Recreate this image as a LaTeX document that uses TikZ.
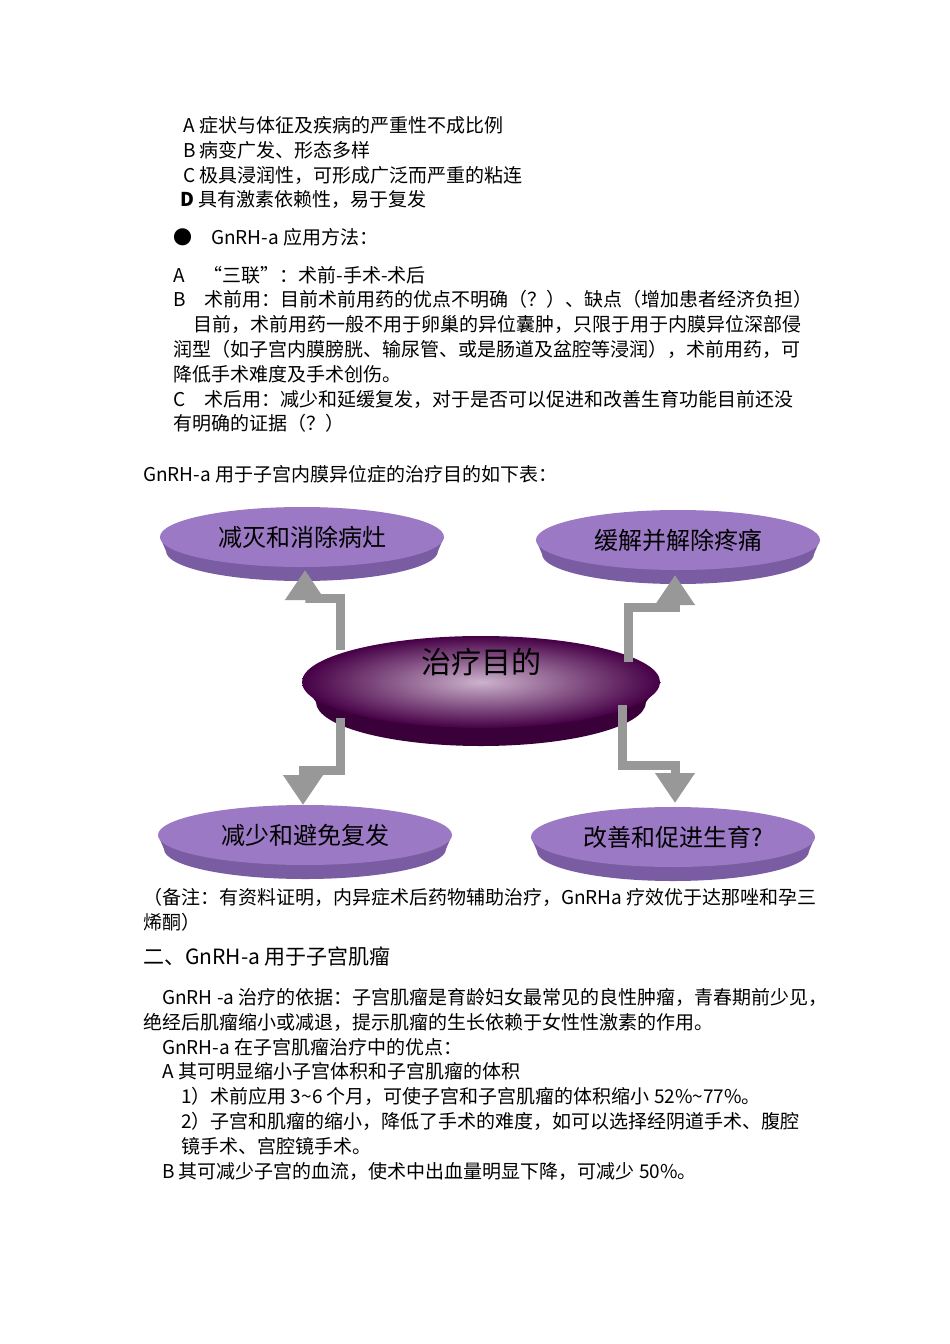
\documentclass[tikz,border=0pt]{standalone}
\usepackage{fontspec}
\usetikzlibrary{arrows.meta}
\setmainfont{Liberation Serif}
\newfontfamily\cjk{Noto Sans CJK SC}
\begin{document}
\begin{tikzpicture}[x=1pt,y=-1pt,
 tx/.style={anchor=base west,inner sep=0pt,font=\cjk\fontsize{19}{21}\selectfont},
 arr/.style={draw=gray!85!black!70,line width=9pt,line join=miter,-{Triangle[length=30pt,width=38pt]}}]
\useasboundingbox (0,0) rectangle (950,1344);
\fill[white] (0,0) rectangle (950,1344);
% text block
\node[tx] (t1) at (183,132) {A\ 症状与体征及疾病的严重性不成比例};
\node[tx] (t2) at (183,157) {B\ 病变广发、形态多样};
\node[tx] (t3) at (183,182) {C\ 极具浸润性，可形成广泛而严重的粘连};
\node[tx] (t4) at (180,206) {\textit{\textbf{D}} 具有激素依赖性，易于复发};
\node[tx] (t5) at (173,244) {●\quad GnRH-a 应用方法：};
\node[tx] (t6) at (173,282) {A\quad “三联”：术前-手术-术后};
\node[tx] (t7) at (173,306) {B\quad 术前用：目前术前用药的优点不明确（？）、缺点（增加患者经济负担）};
\node[tx] (t8) at (193,331) {目前，术前用药一般不用于卵巢的异位囊肿，只限于用于内膜异位深部侵};
\node[tx] (t9) at (173,356) {润型（如子宫内膜膀胱、输尿管、或是肠道及盆腔等浸润），术前用药，可};
\node[tx] (t10) at (173,381) {降低手术难度及手术创伤。};
\node[tx] (t11) at (173,406) {C\quad 术后用：减少和延缓复发，对于是否可以促进和改善生育功能目前还没};
\node[tx] (t12) at (173,430) {有明确的证据（？）};
\node[tx] (t13) at (143,481) {GnRH-a 用于子宫内膜异位症的治疗目的如下表：};
% disks
\definecolor{dtop}{HTML}{9B79C4}
\definecolor{dside}{HTML}{7A5CA3}
\foreach \n/\cx/\cy/\rx/\t in {a/302/537/142/减灭和消除病灶, b/678/540/142/缓解并解除疼痛, c/305/835/147/减少和避免复发, d/673/837/142/改善和促进生育?}{
  \fill[dside] (\cx,\cy+14) ellipse[x radius=\rx-6,y radius=30];
  \fill[dside] (\cx-\rx,\cy) -- (\cx-\rx+6,\cy+14) -- (\cx+\rx-6,\cy+14) -- (\cx+\rx,\cy) -- cycle;
  \fill[dtop] (\cx,\cy) ellipse[x radius=\rx,y radius=30];
  \node[font=\cjk\fontsize{24}{26}\selectfont] (\n) at (\cx,\cy) {\t};
}
% center
\fill[violet!45!black] (481,702) ellipse[x radius=165,y radius=44];
\fill[violet!45!black] (302,682) -- (316,702) -- (646,702) -- (661,682) -- cycle;
\shade[inner color=violet!25!white!80!gray,outer color=violet!55!black] (481,682) ellipse[x radius=179,y radius=46];
\node[font=\cjk\fontsize{30}{32}\selectfont] (m) at (481,662) {治疗目的};
% arrows
\draw[arr] (340,650) -- (340,598) -- (305,598) -- (305,570);
\draw[arr] (628,662) -- (628,607) -- (675,607) -- (675,575);
\draw[arr] (340,718) -- (340,770) -- (303,770) -- (303,805);
\draw[arr] (622,705) -- (622,765) -- (675,765) -- (675,803);
% lower text
\node[tx] (u1) at (143,904) {（备注：有资料证明，内异症术后药物辅助治疗，GnRHa 疗效优于达那唑和孕三};
\node[tx] (u2) at (143,929) {烯酮）};
\node[tx,font=\cjk\fontsize{21}{23}\selectfont] (u3) at (143,964) {二、GnRH-a 用于子宫肌瘤};
\node[tx] (u4) at (162,1004) {GnRH -a 治疗的依据：子宫肌瘤是育龄妇女最常见的良性肿瘤，青春期前少见，};
\node[tx] (u5) at (143,1029) {绝经后肌瘤缩小或减退，提示肌瘤的生长依赖于女性性激素的作用。};
\node[tx] (u6) at (162,1054) {GnRH-a 在子宫肌瘤治疗中的优点：};
\node[tx] (u7) at (162,1078) {A\ 其可明显缩小子宫体积和子宫肌瘤的体积};
\node[tx] (u8) at (181,1103) {1）术前应用 3\textasciitilde6 个月，可使子宫和子宫肌瘤的体积缩小 52\%\textasciitilde77\%。};
\node[tx] (u9) at (181,1128) {2）子宫和肌瘤的缩小，降低了手术的难度，如可以选择经阴道手术、腹腔};
\node[tx] (u10) at (181,1153) {镜手术、宫腔镜手术。};
\node[tx] (u11) at (162,1178) {B\ 其可减少子宫的血流，使术中出血量明显下降，可减少 50\%。};
\end{tikzpicture}
\end{document}
